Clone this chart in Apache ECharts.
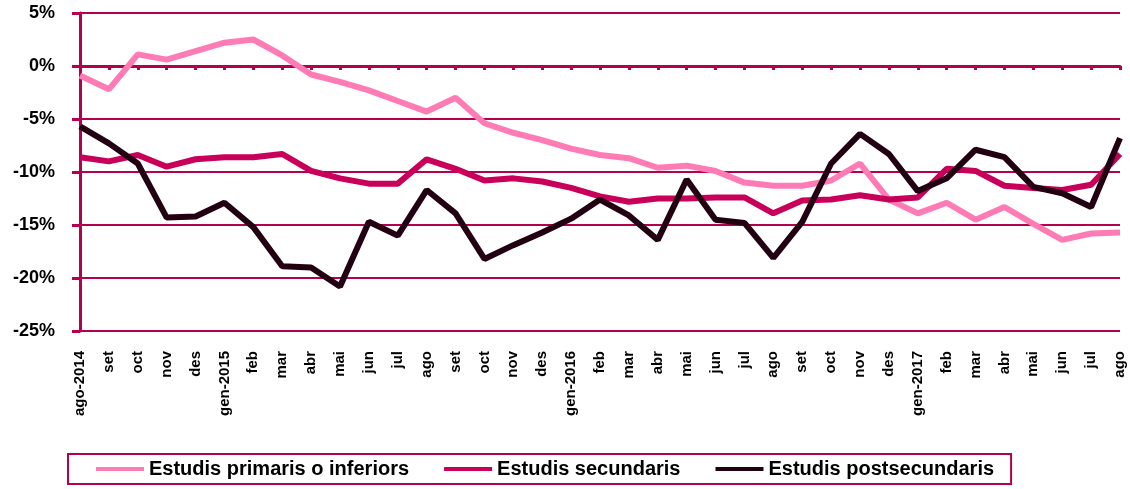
<!DOCTYPE html>
<html>
<head>
<meta charset="utf-8">
<script src="https://cdn.jsdelivr.net/npm/echarts@6/dist/echarts.min.js"></script>
<style>
  html, body { margin: 0; padding: 0; background: #fff; }
  #chart { width: 1130px; height: 489px; }
</style>
</head>
<body>
<div id="chart"></div>
<script>
// mesos (ago-2014 .. ago-2017)
const months = [
  'ago-2014', 'set', 'oct', 'nov', 'des', 'gen-2015', 'feb', 'mar', 'abr', 'mai', 'jun', 'jul',
  'ago', 'set', 'oct', 'nov', 'des', 'gen-2016', 'feb', 'mar', 'abr', 'mai', 'jun', 'jul',
  'ago', 'set', 'oct', 'nov', 'des', 'gen-2017', 'feb', 'mar', 'abr', 'mai', 'jun', 'jul', 'ago'
]

const primaris = [
  -0.9, -2.2, 1.1, 0.6, 1.4, 2.2, 2.5, 1.0, -0.8, -1.5, -2.3, -3.3,
  -4.3, -3.0, -5.4, -6.3, -7.0, -7.8, -8.4, -8.7, -9.6, -9.4, -9.9, -11.0,
  -11.3, -11.3, -10.8, -9.2, -12.6, -13.9, -12.9, -14.5, -13.3, -14.9, -16.4, -15.8, -15.7
]

const secundaris = [
  -8.6, -9.0, -8.4, -9.5, -8.8, -8.6, -8.6, -8.3, -9.9, -10.6, -11.1, -11.1,
  -8.8, -9.7, -10.8, -10.6, -10.9, -11.5, -12.3, -12.8, -12.5, -12.5, -12.4, -12.4,
  -13.9, -12.7, -12.6, -12.2, -12.6, -12.4, -9.7, -9.9, -11.3, -11.5, -11.7, -11.2, -8.3
]

const postsecundaris = [
  -5.7, -7.3, -9.2, -14.3, -14.2, -12.9, -15.2, -18.9, -19.0, -20.8, -14.7, -16.0,
  -11.7, -13.9, -18.2, -16.9, -15.7, -14.4, -12.6, -14.1, -16.4, -10.7, -14.5, -14.8,
  -18.1, -14.7, -9.2, -6.4, -8.3, -11.8, -10.6, -7.9, -8.6, -11.4, -12.0, -13.3, -6.8
]

const axisColor = '#B3004F'

const chart = echarts.init(document.getElementById('chart'))

chart.setOption({
  animation: false,
  textStyle: { fontFamily: 'Liberation Sans, Arial, sans-serif' },
  grid: { left: 80, right: 10, top: 13, bottom: 158 },
  legend: {
    left: 68,
    bottom: 5,
    borderColor: axisColor,
    borderWidth: 2,
    padding: [5, 17, 5, 28],
    itemGap: 35,
    itemWidth: 48,
    itemHeight: 4,
    icon: 'rect',
    textStyle: { fontSize: 20, fontWeight: 'bold', color: '#000' },
    data: ['Estudis primaris o inferiors', 'Estudis secundaris', 'Estudis postsecundaris']
  },
  xAxis: [
    {
      type: 'category',
      data: months,
      boundaryGap: false,
      position: 'bottom',
      axisLine: { show: false, onZero: false },
      axisTick: { show: false },
      axisLabel: {
        rotate: 90,
        interval: 0,
        margin: 20,
        fontSize: 15,
        fontWeight: 'bold',
        color: '#000'
      }
    },
    {
      type: 'category',
      data: months,
      boundaryGap: false,
      position: 'top',
      axisLine: { show: true, onZero: true, lineStyle: { color: axisColor, width: 3 } },
      axisTick: { show: true, inside: true, length: 4, interval: 0, lineStyle: { color: axisColor, width: 3 } },
      axisLabel: { show: false }
    }
  ],
  yAxis: {
    type: 'value',
    min: -25,
    max: 5,
    interval: 5,
    axisLine: { show: true, lineStyle: { color: axisColor, width: 3 } },
    axisTick: { show: true, length: 8, lineStyle: { color: axisColor, width: 3 } },
    axisLabel: {
      formatter: '{value}%',
      fontSize: 18,
      fontWeight: 'bold',
      color: '#000',
      margin: 25
    },
    splitLine: { lineStyle: { color: axisColor, width: 2 } }
  },
  series: [
    {
      name: 'Estudis primaris o inferiors',
      type: 'line',
      data: primaris,
      showSymbol: false,
      lineStyle: { width: 6, color: '#FF7BB6' },
      itemStyle: { color: '#FF7BB6' }
    },
    {
      name: 'Estudis secundaris',
      type: 'line',
      data: secundaris,
      showSymbol: false,
      lineStyle: { width: 6, color: '#C8005A' },
      itemStyle: { color: '#C8005A' }
    },
    {
      name: 'Estudis postsecundaris',
      type: 'line',
      data: postsecundaris,
      showSymbol: false,
      lineStyle: { width: 6, color: '#220012' },
      itemStyle: { color: '#220012' }
    }
  ]
})
</script>
</body>
</html>
